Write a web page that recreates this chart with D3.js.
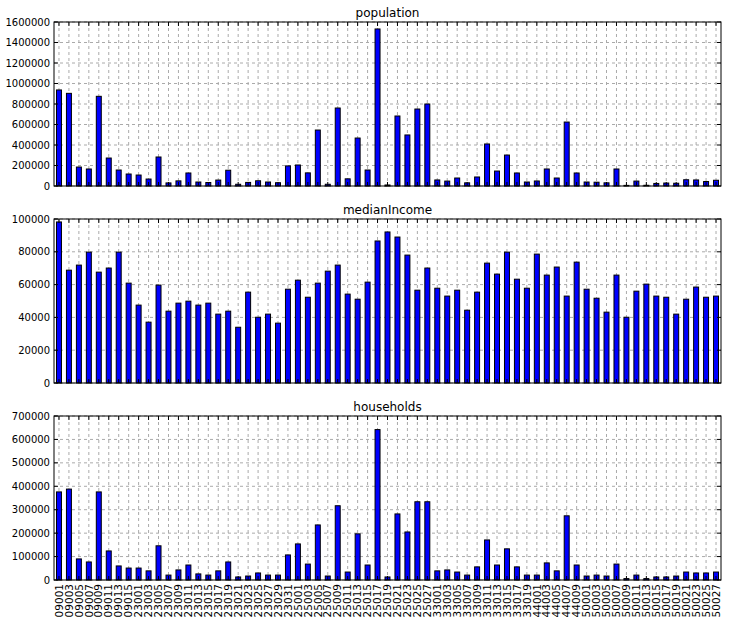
<!DOCTYPE html>
<html>
<head>
<meta charset="utf-8">
<script src="https://cdn.jsdelivr.net/npm/d3@7"></script>
<style>
  body { margin: 0; background: #fff; }
  text { font-family: "DejaVu Sans", sans-serif; fill: #000; }
</style>
</head>
<body>
<div id="chart"></div>
<script>
// county fips codes (CT, ME, MA, NH, RI, VT)
const counties = ['09001','09003','09005','09007','09009','09011','09013','09015',
  '23001','23003','23005','23007','23009','23011','23013','23015','23017','23019','23021','23023','23025','23027','23029','23031',
  '25001','25003','25005','25007','25009','25011','25013','25015','25017','25019','25021','25023','25025','25027',
  '33001','33003','33005','33007','33009','33011','33013','33015','33017','33019',
  '44001','44003','44005','44007','44009',
  '50001','50003','50005','50007','50009','50011','50013','50015','50017','50019','50021','50023','50025','50027']

const population = [937000,904000,185000,166000,875000,273000,156000,117000,
  107000,68000,283000,30000,50000,127000,39000,34000,58000,154000,17000,35000,51000,39000,32000,196000,
  205000,128000,546000,17000,761000,70000,468000,156000,1532000,10000,683000,498000,751000,800000,
  59000,48000,78000,31000,88000,410000,146000,302000,127000,39000,
  49000,166000,78000,624000,127000,
  39000,37000,31000,166000,6000,48000,7000,25000,29000,27000,61000,59000,44000,56000]

const medianIncome = [98200,68800,71900,79800,67600,70100,79800,60900,
  47500,37100,59700,43800,48700,49900,47500,48700,42000,43800,34000,55400,40100,42000,36500,57200,
  62700,52300,60900,68200,71900,54200,51100,61500,86600,92100,89000,78000,56600,70100,
  57800,53000,56600,44400,55400,73100,66400,79800,63300,57800,
  78600,65800,70700,53000,73700,
  57200,51700,43200,65800,40100,56000,60300,53000,52300,42000,51100,58500,52300,53000]

const households = [376000,388000,90000,77000,376000,124000,60000,51000,
  51000,39000,146000,21000,43000,64000,26000,21000,39000,77000,13000,17000,30000,21000,21000,107000,
  154000,68000,235000,17000,317000,34000,197000,64000,642000,13000,282000,205000,334000,334000,
  39000,43000,34000,21000,56000,171000,64000,133000,56000,21000,
  21000,73000,39000,274000,64000,
  17000,21000,17000,68000,6000,21000,6000,13000,13000,17000,34000,30000,30000,34000]

const titles = ['population','medianIncome','households']
const yMax = [1600000, 100000, 700000]
const yStep = [200000, 20000, 100000]

const width = 730
const height = 622
const margin = {left: 54, right: 9}
const panelTop = [22, 219, 416]
const panelH = 164

const svg = d3.select('#chart').append('svg')
  .attr('width', width)
  .attr('height', height)

const x = d3.scaleBand()
  .domain(counties)
  .range([margin.left, width - margin.right])
  .paddingInner(0.5)
  .paddingOuter(0.25)

function drawPanel(values, idx) {
  const top = panelTop[idx]
  const bottom = top + panelH
  const y = d3.scaleLinear().domain([0, yMax[idx]]).range([bottom, top])
  const yticks = d3.range(0, yMax[idx] + 1, yStep[idx])
  const g = svg.append('g')

  // grid
  g.selectAll('.gx').data(counties).enter().append('line')
    .attr('x1', d => x(d) + x.bandwidth() / 2)
    .attr('x2', d => x(d) + x.bandwidth() / 2)
    .attr('y1', top).attr('y2', bottom)
    .attr('stroke', '#aaa').attr('stroke-dasharray', '3,3')
  g.selectAll('.gy').data(yticks).enter().append('line')
    .attr('x1', margin.left).attr('x2', width - margin.right)
    .attr('y1', d => y(d)).attr('y2', d => y(d))
    .attr('stroke', '#aaa').attr('stroke-dasharray', '3,3')

  // bars
  g.selectAll('rect.bar').data(values).enter().append('rect')
    .attr('class', 'bar')
    .attr('x', (d, i) => x(counties[i]))
    .attr('width', x.bandwidth())
    .attr('y', d => y(d))
    .attr('height', d => bottom - y(d))
    .attr('fill', '#0000ff')
    .attr('stroke', '#000')
    .attr('stroke-width', 1)

  // inward ticks on all four sides
  const tl = 4
  counties.forEach(c => {
    const cx = x(c) + x.bandwidth() / 2
    g.append('line').attr('x1', cx).attr('x2', cx).attr('y1', bottom).attr('y2', bottom - tl).attr('stroke', '#000')
    g.append('line').attr('x1', cx).attr('x2', cx).attr('y1', top).attr('y2', top + tl).attr('stroke', '#000')
  })
  yticks.forEach(t => {
    g.append('line').attr('x1', margin.left).attr('x2', margin.left + tl).attr('y1', y(t)).attr('y2', y(t)).attr('stroke', '#000')
    g.append('line').attr('x1', width - margin.right).attr('x2', width - margin.right - tl).attr('y1', y(t)).attr('y2', y(t)).attr('stroke', '#000')
  })

  // frame
  g.append('rect')
    .attr('x', margin.left).attr('y', top)
    .attr('width', width - margin.right - margin.left).attr('height', panelH)
    .attr('fill', 'none').attr('stroke', '#000').attr('stroke-width', 1)

  // y labels
  g.selectAll('.yl').data(yticks).enter().append('text')
    .attr('x', margin.left - 4)
    .attr('y', d => y(d))
    .attr('dy', '0.35em')
    .attr('text-anchor', 'end')
    .style('font-size', '10px')
    .text(d => d)

  // title
  g.append('text')
    .attr('x', (margin.left + width - margin.right) / 2)
    .attr('y', top - 5)
    .attr('text-anchor', 'middle')
    .style('font-size', '12px')
    .text(titles[idx])

  // x labels only on the last panel
  if (idx == 2) {
    g.selectAll('.xl').data(counties).enter().append('text')
      .attr('transform', d => `translate(${x(d) + x.bandwidth() / 2},${bottom + 4}) rotate(-90)`)
      .attr('dy', '0.35em')
      .attr('text-anchor', 'end')
      .style('font-size', '10.5px')
      .text(d => d)
  }
}

drawPanel(population, 0)
drawPanel(medianIncome, 1)
drawPanel(households, 2)
</script>
</body>
</html>
